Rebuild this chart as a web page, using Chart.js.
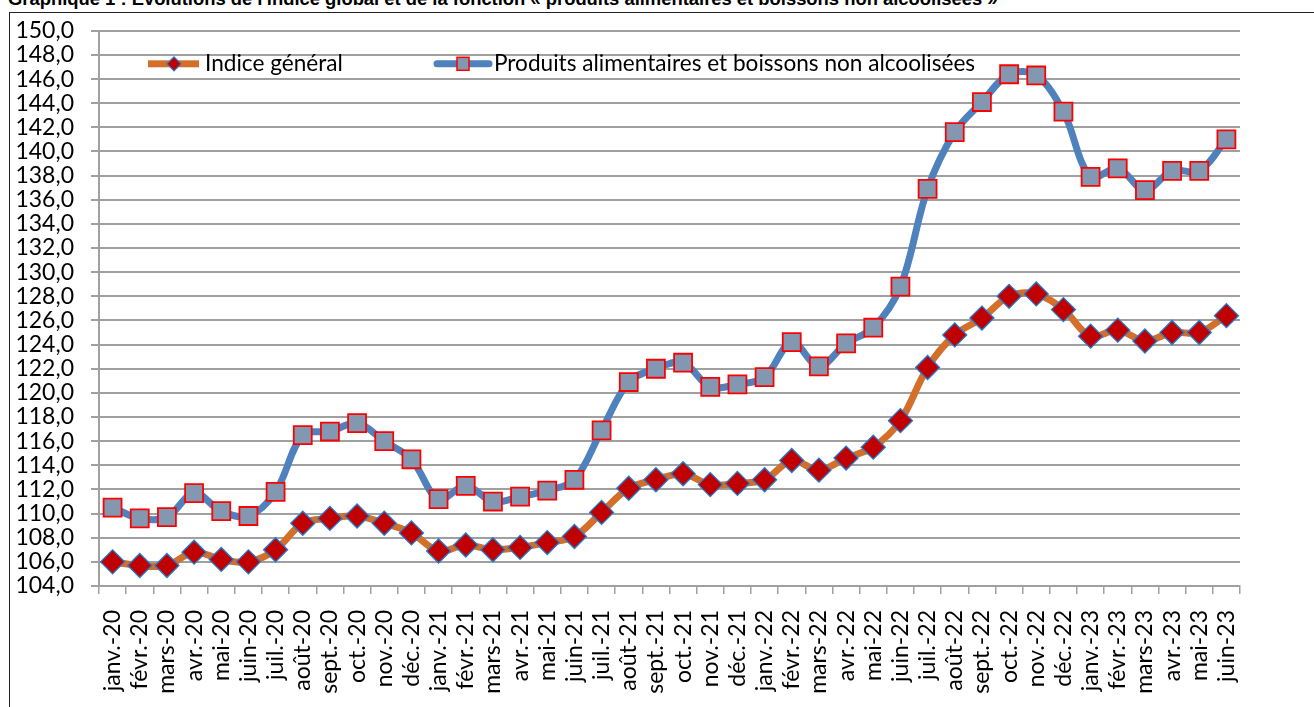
<!DOCTYPE html>
<html>
<head>
<meta charset="utf-8">
<script src="https://cdn.jsdelivr.net/npm/chart.js@4.4.1/dist/chart.umd.min.js"></script>
<style>
    html, body { margin: 0; padding: 0; background: #fff; overflow: hidden; }
    body { width: 1314px; height: 707px; position: relative; }
    #title {
        position: absolute; left: 8px; top: -12px;
        font: bold 18.4px "Liberation Sans", Arial, sans-serif;
        line-height: 21px;
        white-space: nowrap; color: #000;
    }
    #frame {
        position: absolute; left: 9px; top: 12px; width: 1400px; height: 800px;
        border: 1.5px solid #222;
    }
    #wrap { position: absolute; left: 0; top: 0; width: 1314px; height: 707px; }
</style>
</head>
<body>
<div id="title">Graphique 1 : Evolutions de l'indice global et de la fonction « produits alimentaires et boissons non alcoolisées »</div>
<div id="frame"></div>
<div id="wrap"><canvas id="chart"></canvas></div>

<script>
// --- Data ---
const months = [
    'janv.-20', 'févr.-20', 'mars-20', 'avr.-20', 'mai-20', 'juin-20', 'juil.-20', 'août-20', 'sept.-20', 'oct.-20', 'nov.-20', 'déc.-20',
    'janv.-21', 'févr.-21', 'mars-21', 'avr.-21', 'mai-21', 'juin-21', 'juil.-21', 'août-21', 'sept.-21', 'oct.-21', 'nov.-21', 'déc.-21',
    'janv.-22', 'févr.-22', 'mars-22', 'avr.-22', 'mai-22', 'juin-22', 'juil.-22', 'août-22', 'sept.-22', 'oct.-22', 'nov.-22', 'déc.-22',
    'janv.-23', 'févr.-23', 'mars-23', 'avr.-23', 'mai-23', 'juin-23'
];

const indiceGeneral = [
    106.0, 105.7, 105.7, 106.8, 106.2, 106.0, 107.0, 109.2, 109.6, 109.8, 109.2, 108.4,
    106.9, 107.4, 107.0, 107.2, 107.6, 108.1, 110.1, 112.1, 112.8, 113.3, 112.4, 112.5,
    112.8, 114.4, 113.6, 114.6, 115.5, 117.7, 122.1, 124.8, 126.2, 128.0, 128.2, 126.9,
    124.7, 125.2, 124.3, 125.0, 125.0, 126.4
];

const produitsAlimentaires = [
    110.5, 109.6, 109.7, 111.7, 110.2, 109.8, 111.8, 116.5, 116.8, 117.5, 116.0, 114.5,
    111.2, 112.3, 111.0, 111.4, 111.9, 112.8, 116.9, 120.9, 122.0, 122.5, 120.5, 120.7,
    121.3, 124.2, 122.2, 124.1, 125.4, 128.8, 136.9, 141.6, 144.1, 146.4, 146.3, 143.3,
    137.9, 138.6, 136.8, 138.4, 138.4, 141.0
];

const seriesNames = ['Indice général', 'Produits alimentaires et boissons non alcoolisées'];

const FONT = 'Lato, "Open Sans", sans-serif';
const ORANGE = '#D46F2A';
const BLUE = '#4F81BD';
const GRID = '#A0A0A0';

// Legend drawn inside the plot area, like the Excel original (line sample + marker + text)
const insideLegend = {
    id: 'insideLegend',
    afterDraw(chart) {
        const ctx = chart.ctx;
        const area = chart.chartArea;
        const y = area.top + 33;
        ctx.save();

        // item 1: orange line with red diamond
        ctx.fillStyle = ORANGE;
        ctx.fillRect(area.left + 49, y - 3.5, 51, 7);
        ctx.beginPath();
        ctx.moveTo(area.left + 75, y - 7);
        ctx.lineTo(area.left + 82, y);
        ctx.lineTo(area.left + 75, y + 7);
        ctx.lineTo(area.left + 68, y);
        ctx.closePath();
        ctx.fillStyle = '#C00000';
        ctx.fill();
        ctx.strokeStyle = '#1F7BD0';
        ctx.lineWidth = 1.2;
        ctx.stroke();

        // item 2: blue line with grey square
        ctx.strokeStyle = BLUE;
        ctx.lineWidth = 7;
        ctx.lineCap = 'round';
        ctx.beginPath();
        ctx.moveTo(area.left + 338, y);
        ctx.lineTo(area.left + 390, y);
        ctx.stroke();
        ctx.fillStyle = '#8497B0';
        ctx.fillRect(area.left + 358, y - 6.5, 12, 13);
        ctx.strokeStyle = '#FF0000';
        ctx.lineWidth = 1.5;
        ctx.strokeRect(area.left + 358, y - 6.5, 12, 13);

        ctx.fillStyle = '#000';
        ctx.font = '22.6px ' + FONT;
        ctx.textBaseline = 'middle';
        ctx.textAlign = 'left';
        ctx.fillText(seriesNames[0], area.left + 106, y);
        ctx.fillText(seriesNames[1], area.left + 395, y);
        ctx.restore();
    }
};

const ctx = document.getElementById('chart');

new Chart(ctx, {
    type: 'line',
    data: {
        labels: months,
        datasets: [
            {
                label: seriesNames[1],
                data: produitsAlimentaires,
                borderColor: BLUE,
                borderWidth: 7,
                tension: 0.35,
                pointStyle: 'rect',
                pointRadius: 12.7,
                pointBackgroundColor: '#8497B0',
                pointBorderColor: '#FF0000',
                pointBorderWidth: 1.8,
                order: 2
            },
            {
                label: seriesNames[0],
                data: indiceGeneral,
                borderColor: ORANGE,
                borderWidth: 7,
                tension: 0.35,
                pointStyle: 'rectRot',
                pointRadius: 12,
                pointBackgroundColor: '#C00000',
                pointBorderColor: '#1F7BD0',
                pointBorderWidth: 1.3,
                order: 1
            }
        ]
    },
    options: {
        responsive: true,
        maintainAspectRatio: false,
        animation: false,
        events: [],
        layout: { padding: { left: 0, top: 29, right: 74, bottom: 0 } },
        plugins: {
            legend: { display: false },
            tooltip: { enabled: false }
        },
        scales: {
            x: {
                type: 'category',
                offset: true,
                grid: {
                    offset: true,
                    drawOnChartArea: false,
                    color: GRID,
                    lineWidth: 1.5,
                    tickLength: 8
                },
                border: { color: GRID, width: 2 },
                ticks: {
                    minRotation: 90,
                    maxRotation: 90,
                    autoSkip: false,
                    padding: 16,
                    color: '#000',
                    font: { family: FONT, size: 23 }
                },
                afterFit: scale => { scale.height = 121; }
            },
            y: {
                min: 104,
                max: 150,
                grid: {
                    color: GRID,
                    lineWidth: 2,
                    tickLength: 8
                },
                border: { color: GRID, width: 2 },
                ticks: {
                    stepSize: 2,
                    autoSkip: false,
                    padding: 17,
                    color: '#000',
                    font: { family: FONT, size: 23 },
                    callback: v => v.toFixed(1).replace('.', ',')
                },
                afterFit: scale => { scale.width = 99; }
            }
        }
    },
    plugins: [insideLegend]
});
</script>
</body>
</html>
